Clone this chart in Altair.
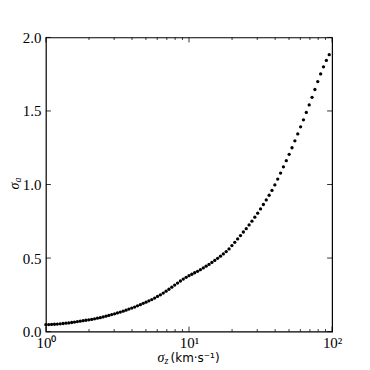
import altair as alt
import pandas as pd

# sigma_z values (km/s), log-spaced samples
sigma_z = [1.000, 1.047, 1.096, 1.148, 1.202, 1.259, 1.318, 1.380, 1.445, 1.514,
           1.585, 1.660, 1.738, 1.820, 1.905, 1.995, 2.089, 2.188, 2.291, 2.399,
           2.512, 2.630, 2.754, 2.884, 3.020, 3.162, 3.311, 3.467, 3.631, 3.802,
           3.981, 4.169, 4.365, 4.571, 4.786, 5.012, 5.248, 5.495, 5.754, 6.026,
           6.310, 6.607, 6.918, 7.244, 7.586, 7.943, 8.318, 8.710, 9.120, 9.550,
           10.00, 10.47, 10.96, 11.48, 12.02, 12.59, 13.18, 13.80, 14.45, 15.14,
           15.85, 16.60, 17.38, 18.20, 19.05, 19.95, 20.89, 21.88, 22.91, 23.99,
           25.12, 26.30, 27.54, 28.84, 30.20, 31.62, 33.11, 34.67, 36.31, 38.02,
           39.81, 41.69, 43.65, 45.71, 47.86, 50.12, 52.48, 54.95, 57.54, 60.26,
           63.10, 66.07, 69.18, 72.44, 75.86, 79.43, 83.18, 87.10, 91.20, 95.50]

sigma_a = [0.047, 0.048, 0.049, 0.050, 0.051, 0.053, 0.055, 0.057, 0.059, 0.062,
           0.065, 0.068, 0.071, 0.074, 0.077, 0.080, 0.083, 0.087, 0.091, 0.095,
           0.100, 0.105, 0.110, 0.116, 0.121, 0.127, 0.133, 0.139, 0.146, 0.153,
           0.160, 0.167, 0.175, 0.183, 0.192, 0.200, 0.209, 0.218, 0.228, 0.239,
           0.250, 0.262, 0.275, 0.288, 0.302, 0.316, 0.330, 0.344, 0.357, 0.369,
           0.380, 0.390, 0.400, 0.410, 0.421, 0.433, 0.445, 0.457, 0.470, 0.484,
           0.498, 0.513, 0.528, 0.544, 0.562, 0.585, 0.607, 0.630, 0.653, 0.677,
           0.700, 0.725, 0.751, 0.778, 0.805, 0.834, 0.864, 0.895, 0.927, 0.960,
           0.997, 1.037, 1.078, 1.120, 1.162, 1.205, 1.250, 1.297, 1.344, 1.392,
           1.440, 1.490, 1.541, 1.593, 1.646, 1.700, 1.752, 1.800, 1.844, 1.883]

x_major = [1, 10, 100]
x_minor = [2, 3, 4, 5, 6, 7, 8, 9, 20, 30, 40, 50, 60, 70, 80, 90]
y_major = [0.0, 0.5, 1.0, 1.5, 2.0]

W, H = 287, 295
SERIF = "Liberation Serif"

df = pd.DataFrame({"sz": sigma_z, "sa": sigma_a})
xs = alt.Scale(type="log", domain=[1, 100], nice=False)
ys = alt.Scale(domain=[0, 2], nice=False, zero=False)

x_axis = alt.Axis(values=x_major, domain=False, ticks=False, grid=False, title=None,
                  labelFont=SERIF, labelFontSize=15, labelColor="black",
                  labelPadding=4, labelFlush=False,
                  labelExpr="datum.value == 1 ? '10⁰' : (datum.value == 10 ? '10¹' : '10²')")
y_axis = alt.Axis(values=y_major, domain=False, ticks=False, grid=False, title=None,
                  format=".1f", labelFont=SERIF, labelFontSize=15, labelFlush=False,
                  labelColor="black", labelPadding=5)

points = alt.Chart(df).mark_circle(size=11, color="black", opacity=1).encode(
    x=alt.X("sz:Q", scale=xs, axis=x_axis),
    y=alt.Y("sa:Q", scale=ys, axis=y_axis),
)

xmaj = pd.DataFrame({"v": x_major})
xmin = pd.DataFrame({"v": x_minor})
ymaj = pd.DataFrame({"v": y_major})

def xticks(data, length, top):
    y0 = 0 if top else H
    y1 = length if top else H - length
    return alt.Chart(data).mark_rule(color="black", strokeWidth=0.8).encode(
        x=alt.X("v:Q", scale=xs, axis=x_axis), y=alt.value(y0), y2=alt.value(y1))

def yticks(data, length, right):
    x0 = W if right else 0
    x1 = W - length if right else length
    return alt.Chart(data).mark_rule(color="black", strokeWidth=0.8).encode(
        y=alt.Y("v:Q", scale=ys, axis=y_axis), x=alt.value(x0), x2=alt.value(x1))

title_src = pd.DataFrame({"t": [0]})
xt1 = alt.Chart(title_src).mark_text(font=SERIF, fontStyle="italic", fontSize=14,
                                     color="black", align="left", baseline="alphabetic").encode(
    x=alt.value(112), y=alt.value(H + 30), text=alt.value("σ"))
xt2 = alt.Chart(title_src).mark_text(font=SERIF, fontStyle="italic", fontSize=10,
                                     color="black", align="left", baseline="alphabetic").encode(
    x=alt.value(119), y=alt.value(H + 32), text=alt.value("z"))
xt3 = alt.Chart(title_src).mark_text(font="DejaVu Sans", fontSize=12,
                                     color="black", align="left", baseline="alphabetic").encode(
    x=alt.value(125), y=alt.value(H + 30), text=alt.value("(km·s⁻¹)"))

yt1 = alt.Chart(title_src).mark_text(font=SERIF, fontStyle="italic", fontSize=14, angle=270,
                                     color="black", align="left", baseline="alphabetic").encode(
    x=alt.value(-27), y=alt.value(H / 2 + 5), text=alt.value("σ"))
yt2 = alt.Chart(title_src).mark_text(font=SERIF, fontStyle="italic", fontSize=10, angle=270,
                                     color="black", align="left", baseline="alphabetic").encode(
    x=alt.value(-25), y=alt.value(H / 2 - 2), text=alt.value("a"))

chart = alt.layer(
    points,
    xticks(xmaj, 5, False), xticks(xmaj, 5, True),
    xticks(xmin, 2.5, False), xticks(xmin, 2.5, True),
    yticks(ymaj, 5, False), yticks(ymaj, 5, True),
    xt1, xt2, xt3, yt1, yt2,
).properties(
    width=W, height=H,
    autosize=alt.AutoSizeParams(type="none"),
    padding={"left": 38, "top": 29, "right": 30, "bottom": 40},
    background="white",
).configure_view(stroke="black", strokeWidth=1.2, clip=False)

chart.save("out.html", embed_options={"renderer": "svg", "actions": False})
